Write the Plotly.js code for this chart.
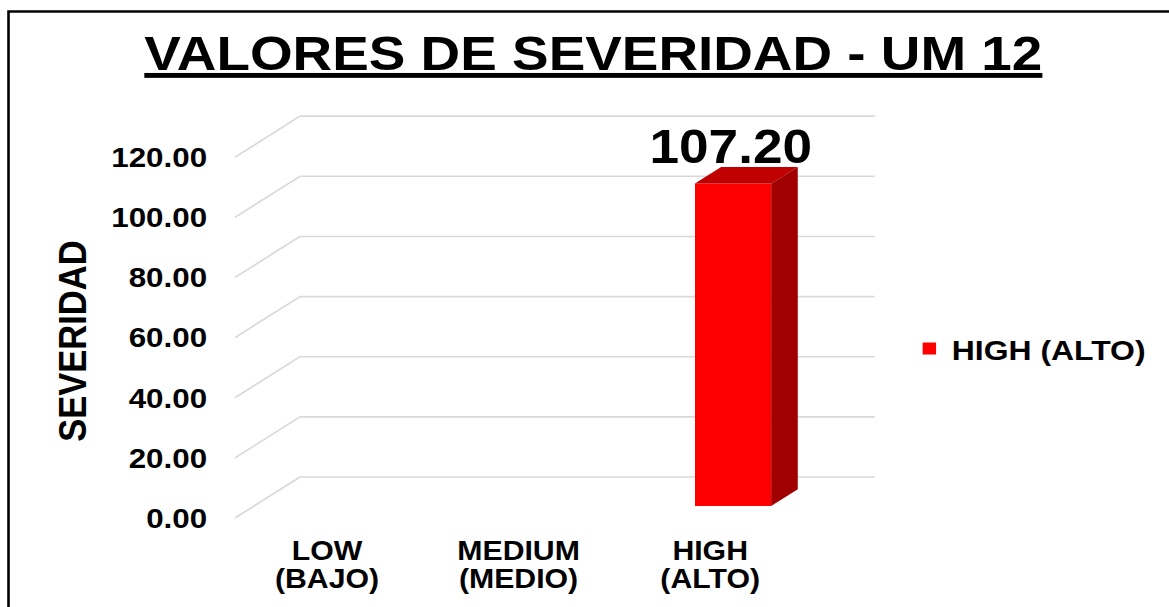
<!DOCTYPE html>
<html>
<head>
<meta charset="utf-8">
<script src="https://cdn.plot.ly/plotly-3.0.1.min.js"></script>
<style>
  html, body { margin: 0; padding: 0; background: #ffffff; overflow: hidden; }
  #wrap { width: 1169px; height: 607px; overflow: hidden; position: relative; }
  #chart { width: 1044px; height: 607px; transform-origin: 0 0; position: absolute; left: 0; top: 0; }
</style>
</head>
<body>
<div id="wrap"><div id="chart"></div></div>
<script>
// ---------------- DATA ----------------
const categories = ['LOW (BAJO)', 'MEDIUM (MEDIO)', 'HIGH (ALTO)'];
const tickLine1 = ['LOW', 'MEDIUM', 'HIGH'];
const tickLine2 = ['(BAJO)', '(MEDIO)', '(ALTO)'];
const seriesName = 'HIGH (ALTO)';
const highValues = [null, null, 107.2];
const yTicks = [0, 20, 40, 60, 80, 100, 120];
const chartTitle = 'VALORES DE SEVERIDAD - UM 12';
const yTitle = 'SEVERIDAD';

// ---------------- GEOMETRY / STYLE ----------------
const W0 = 1044, H = 607;
const SX = 1169 / W0;              // horizontal stretch of the original picture
document.getElementById('chart').style.transform = 'scaleX(' + SX + ')';

const L = 188, R = 790, T = 97, B = 524;
const pxPerCat = 171.1;
const xMin = -0.128, xMax = xMin + (R - L) / pxPerCat;
const yMin = -2, yMax = 140;
const dX = 0.339, dY = 13.63;      // full depth of the 3D box (data units)
const fd = 0.29, bd = 0.41;        // bar front position / bar depth (fraction of depth)
const barW = 0.40;
const FONT = 'Liberation Sans, Arial, Helvetica, sans-serif';
const gridColor = '#d9d9d9';

const px2paperX = p => (p - L) / (R - L);
const px2paperY = p => (B - p) / (B - T);

// ---------------- SHAPES (walls gridlines) ----------------
const shapes = [];
yTicks.forEach(t => {
  shapes.push({type: 'line', xref: 'x', yref: 'y', layer: 'below',
    x0: dX, y0: t + dY, x1: categories.length + dX, y1: t + dY,
    line: {color: gridColor, width: 1.6}});
  shapes.push({type: 'line', xref: 'x', yref: 'y', layer: 'below',
    x0: 0, y0: t, x1: dX, y1: t + dY,
    line: {color: gridColor, width: 1.6}});
});
// chart-area border (cropped at right and bottom)
shapes.push({type: 'path', xref: 'paper', yref: 'paper', layer: 'above',
  path: 'M ' + px2paperX(7.6) + ' ' + px2paperY(620) +
        ' L ' + px2paperX(7.6) + ' ' + px2paperY(11.5) +
        ' L ' + px2paperX(1060) + ' ' + px2paperY(11.5),
  line: {color: '#000000', width: 2.3}});

// ---------------- TRACES ----------------
const barX = highValues.map((v, i) => i + 0.5 + fd * dX);
const barBase = highValues.map(() => fd * dY);

const traces = [];
traces.push({
  type: 'bar', name: seriesName, x: barX, y: highValues, base: barBase,
  width: barW, marker: {color: '#FF0000', line: {width: 0}},
  hoverinfo: 'skip', showlegend: true
});

highValues.forEach((v, i) => {
  if (v === null) return;
  const x0 = barX[i] - barW / 2, x1 = barX[i] + barW / 2;
  const b = barBase[i], top = b + v;
  const ox = bd * dX, oy = bd * dY;
  traces.push({type: 'scatter', mode: 'lines', fill: 'toself', fillcolor: '#C00000',
    x: [x0, x1, x1 + ox, x0 + ox, x0], y: [top, top, top + oy, top + oy, top],
    line: {width: 0, color: '#C00000'}, showlegend: false, hoverinfo: 'skip'});
  traces.push({type: 'scatter', mode: 'lines', fill: 'toself', fillcolor: '#A00000',
    x: [x1, x1 + ox, x1 + ox, x1, x1], y: [b, b + oy, top + oy, top, b],
    line: {width: 0, color: '#A00000'}, showlegend: false, hoverinfo: 'skip'});
});

// helper trace so the second x axis (second label line) is drawn
traces.push({type: 'scatter', x: [null], y: [null], xaxis: 'x2', yaxis: 'y',
  showlegend: false, hoverinfo: 'skip'});

// ---------------- ANNOTATIONS ----------------
const annotations = [];
highValues.forEach((v, i) => {
  if (v === null) return;
  annotations.push({x: barX[i] - 0.01, y: v + barBase[i], xref: 'x', yref: 'y',
    text: v.toFixed(2), showarrow: false, xanchor: 'center', yanchor: 'bottom', yshift: 9,
    font: {family: FONT, size: 47.5, weight: 'bold', color: '#000000'}});
});
annotations.push({xref: 'paper', yref: 'paper', x: px2paperX(64.7), y: px2paperY(341),
  xanchor: 'center', yanchor: 'middle', textangle: -90, showarrow: false,
  text: yTitle, font: {family: FONT, size: 34.5, weight: 'bold', color: '#000000'}});

const tickPos = categories.map((c, i) => i + 0.48);

const layout = {
  width: W0, height: H,
  margin: {l: L, r: W0 - R, t: T, b: H - B, pad: 0},
  paper_bgcolor: '#ffffff', plot_bgcolor: 'rgba(0,0,0,0)',
  font: {family: FONT, color: '#000000'},
  title: {text: '<u>' + chartTitle + '</u>', xref: 'container', yref: 'container',
    x: 529.9 / W0, xanchor: 'center', y: 1 - 53 / H, yanchor: 'middle',
    font: {family: FONT, size: 49, weight: 'bold', color: '#000000'}},
  xaxis: {type: 'linear', range: [xMin, xMax], showgrid: false, zeroline: false,
    showline: false, ticks: '', tickvals: tickPos, ticktext: tickLine1,
    ticklabelstandoff: 8,
    tickfont: {family: FONT, size: 27, weight: 'bold', color: '#000000'}, fixedrange: true},
  xaxis2: {type: 'linear', range: [xMin, xMax], overlaying: 'x', anchor: 'y', side: 'bottom',
    showgrid: false, zeroline: false, showline: false, ticks: '', tickvals: tickPos,
    ticktext: tickLine2, ticklabelstandoff: 36,
    tickfont: {family: FONT, size: 27, weight: 'bold', color: '#000000'}, fixedrange: true},
  yaxis: {range: [yMin, yMax], showgrid: false, zeroline: false, showline: false,
    ticks: '', tickvals: yTicks, tickformat: '.2f', ticklabelstandoff: 2,
    tickfont: {family: FONT, size: 28, weight: 'bold', color: '#000000'}, fixedrange: true},
  showlegend: true,
  legend: {x: px2paperX(810), xanchor: 'left', y: px2paperY(349), yanchor: 'middle',
    bgcolor: 'rgba(0,0,0,0)', font: {family: FONT, size: 28.5, weight: 'bold', color: '#000000'}},
  shapes: shapes,
  annotations: annotations,
  bargap: 0
};

Plotly.newPlot('chart', traces, layout, {displayModeBar: false, staticPlot: true});
</script>
</body>
</html>
